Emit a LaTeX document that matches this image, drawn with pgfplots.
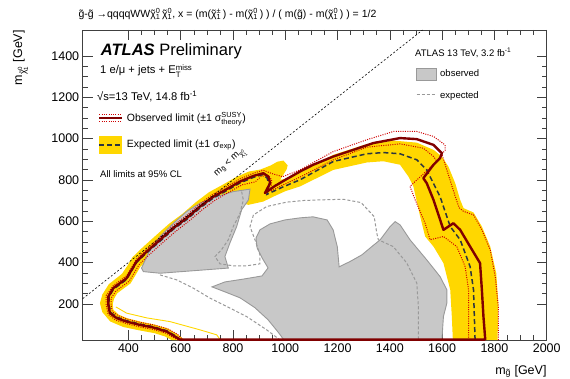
\documentclass[border=0pt]{standalone}
\usepackage{pgfplots}
\pgfplotsset{compat=1.18}
\usepackage{fontspec}
\setmainfont{Liberation Sans}
\definecolor{yel}{HTML}{FFD700}
\definecolor{obsred}{HTML}{800000}
\definecolor{dotred}{HTML}{D00000}
\definecolor{expdark}{HTML}{2A3440}
\definecolor{grfill}{HTML}{C8C8C8}
\definecolor{gredge}{HTML}{999999}
\makeatletter
\newcommand{\ssb}[2]{\ensuremath{{}^{\mbox{\fontsize\sf@size\z@\selectfont #2}}_{\mbox{\fontsize\sf@size\z@\selectfont #1}}}}
\newcommand{\sub}[1]{\ensuremath{{}_{\mbox{\fontsize\sf@size\z@\selectfont #1}}}}
\makeatother
\newcommand{\tld}[1]{{\ooalign{#1\cr\hidewidth\char"02DC\hidewidth\cr}}}
\newcommand{\chiz}{\tld{χ}\ssb{1}{0}}
\newcommand{\chipm}{\tld{χ}\ssb{1}{±}}
\newcommand{\gl}{\tld{g}}
\begin{document}
\begin{tikzpicture}[x=1pt,y=1pt]
\useasboundingbox (0,0) rectangle (570,378);
\begin{axis}[
  at={(82.7pt,38pt)}, anchor=south west, scale only axis,
  width=464pt, height=310pt,
  xmin=225, xmax=2000, ymin=25, ymax=1525,
  xtick={400,600,...,2000}, ytick={200,400,...,1400},
  minor x tick num=3, minor y tick num=3,
  tick align=inside, xtick pos=both, ytick pos=both,
  xticklabel pos=lower, yticklabel pos=left,
  major tick length=10pt, minor tick length=5pt,
  axis line style={black!75, line width=0.8pt},
  every tick/.style={black!75, line width=0.6pt},
  tick label style={font=\fontsize{12.5}{14}\selectfont},
  /pgf/number format/assume math mode=true,
  /pgf/number format/1000 sep={},
]
% yellow expected band
\addplot[fill=yel, draw=none] coordinates {
(1812,25)(1815,203)(1807,348)(1784,477)(1752,574)(1720,642)(1682,663)(1669,703)(1650,784)(1624,864)(1599,913)(1567,945)(1503,980)(1414,990)(1312,973)(1184,921)(1056,835)(1000,805)(980,800)
(1005,850)(1009,870)(993,893)(970,888)(945,870)
(905,850)(860,840)(810,812)(760,776)(708,740)(658,692)(607,636)(555,587)(505,531)(455,474)(415,425)(396,384)(375,345)(325,295)(300,245)(291,203)(300,160)(330,115)(380,88)(440,72)(500,58)(540,42)(565,25)
(615,25)(588,52)(552,80)(498,100)(446,114)(396,130)(362,148)(342,172)(340,200)(345,225)
(357,251)(408,299)(427,339)(446,380)(485,428)(536,485)(586,541)(638,590)(689,646)(740,690)(790,700)(859,679)(916,695)(960,722)(1000,745)(1056,768)(1184,848)(1312,884)(1375,890)(1439,873)(1471,816)(1490,768)(1516,622)(1535,526)(1567,477)(1605,397)(1631,268)(1637,139)(1641,25)
} -- cycle;
% thin yellow line (expected -1 sigma edge)
\addplot[yel, line width=0.9pt] coordinates {
(352,185)(393,155)(470,132)(559,114)(674,74)(737.6,50)(752,25)
};
% grey observed regions (3.2 fb-1)
\addplot[fill=grfill, draw=gredge, line width=0.9pt] coordinates {
(450,373)(482,461)(521,526)(572,590)(623,647)(674,687)(738,719)(801,743)(865,755)(859,703)(833,655)(814,574)(788,494)(769,429)(782,373)(521,348)(457,356)
} -- cycle;
\addplot[fill=grfill, draw=gredge, line width=0.9pt] coordinates {
(719.6,282)(769,306)(846,321)(911,335)(934,374)(911,423)(892,471)(888,519)(903,558)(942,587)(999,606)(1056,616)(1106,621)(1160,606)(1183,558)(1199,476)(1206,379)(1248,405)(1293,437)(1331,477)(1363,510)(1401,574)(1420,598)(1439,582)(1477,510)(1541,413)(1592,332)(1618,268)(1618,203)(1605,139)(1599,25)(995,25)(972,64)(934,123)(884,181)(827,229)(769,258)
} -- cycle;
% grey expected (3.2 fb-1)
\addplot[gredge, line width=1pt, dash pattern=on 3pt off 2pt] coordinates {
(833,743)(839.5,703)(827,639)(801,574)(782,510)(755,460)(731,429)(750,393.5)(801,384)(852,384)(903,393.5)(903,437)(884,510)(865,574)(878,630)(929,671)(1005,692)(1070,700)(1133,703)(1222,706)(1290,690)(1340,622)(1350,542)(1356,510)(1413,477)(1465,397)(1503,300)(1509,187)(1509,25)
};
\addplot[gredge, line width=1pt, dash pattern=on 3pt off 2pt] coordinates {
(520.6,340)(584.5,316)(648,276)(712,227.6)(776,187)(852,138.6)(929,74)(980,25)
};
% observed +-1 sigma theory
\addplot[dotred, line width=1pt, dash pattern=on 1pt off 1.3pt] coordinates {
(1815,25)(1815,187)(1803,332)(1784,461)(1752,558)(1720,631)(1682,647)(1665,665)(1650,720)(1630,800)(1610,880)(1599,926)(1611,942)(1611,969)(1567,1010)(1503,1034)(1414,1034)(1312,994)(1184,937)(1056,848)(990,815)(950,830)(916,846)(878,832)(827,805)(776,768)(725,732)(674,684)(623,628)(571,578)(521,522)(470,465)(431,417)(412,376)(393,336)(342,288)(315,240)(315,195)(322,150)(350,122)(393,104)(444,88)(495,76)(546,57)(575,35)(590,25)
};
\addplot[dotred, line width=1pt, dash pattern=on 1pt off 1.3pt] coordinates {
(1701,25)(1701,268)(1688,380)(1656,477)(1605,526)(1554,510)(1535,590)(1497,703)(1477,768)(1490,784)(1580,889)(1567,913)(1528,953)(1439,974)(1312,958)(1184,897)(1056,813)(990,775)(945,745)(948,800)(935,822)(908,817)(885,790)(835,776)(784,740)(733,703)(682,655)(631,600)(580,550)(530,495)(480,438)(441,390)(422,350)(403,310)(352,262)(334,228)(334,195)(338,162)(362,142)(396,126)(446,110)(497,98)(548,80)(585,55)(610,25)
};
% expected limit
\addplot[expdark, line width=1.5pt, dash pattern=on 5pt off 3pt] coordinates {
(1726,25)(1720,268)(1707,380)(1669,510)(1631,574)(1592,719)(1541,848)(1503,897)(1439,926)(1375,932)(1312,926)(1184,889)(1056,800)(990,765)(930,730)(938,775)(930,810)(912,825)(878,812)(827,785)(776,748)(725,712)(674,664)(623,608)(571,560)(521,503)(470,447)(431,400)(412,360)(393,318)(342,270)(326,232)(326,195)(332,158)(357,135)(394,118)(444,102)(495,89)(546,70)(580,45)(600,25)
};
% observed limit
\addplot[obsred, line width=2.4pt, line join=round] coordinates {
(1765,25)(1758,139)(1752,268)(1745,397)(1707,477)(1669,558)(1643,590)(1605,558)(1567,703)(1541,784)(1528,808)(1567,873)(1592,905)(1599,929)(1567,969)(1503,997)(1439,1002)(1337,978)(1260,945)(1184,913)(1107,873)(1056,840)(1000,800)(960,770)(922,736)(942,784)(935,816)(916,832)(878,819)(827,792)(776,755)(725,719)(674,671)(623,615)(571,566)(521,510)(470,453)(431,405)(412,364)(393,324)(342,276)(323,235)(323,195)(329,155)(355,131)(393,114)(444,98)(495,85.5)(546,66)(578,42)(597,27)(1765,27)
};
% kinematic limit
\addplot[black, line width=0.6pt, dash pattern=on 2pt off 2pt] coordinates {(225,225)(1525,1525)};
\node[rotate=42, font=\fontsize{9.5}{11}\selectfont] at (axis cs:792,880) {m\sub{\gl} < m\sub{\chiz}};
\end{axis}
% texts
\node[anchor=west, font=\fontsize{10.5}{12}\selectfont] at (75,364) {\gl-\gl{} →qqqqWW\chiz\,\chiz, x = (m(\chipm\,) - m(\chiz\,) ) / ( m(\gl) - m(\chiz\,) ) = 1/2};
\node[anchor=base west, inner sep=0, font=\fontsize{16.5}{18}\selectfont] at (100.7,322) {\textbf{\textit{ATLAS}} Preliminary};
\node[anchor=base west, inner sep=0, font=\fontsize{11.2}{13}\selectfont] at (100,304) {1 e/μ + jets + E\ssb{T}{miss}};
\node[anchor=base west, inner sep=0, font=\fontsize{11.2}{13}\selectfont] at (97,277.3) {√s=13 TeV, 14.8 fb\textsuperscript{-1}};
% legend left
\draw[dotred, line width=1pt, dash pattern=on 1pt off 1.3pt] (99.3,263.5) -- (121.7,263.5);
\draw[dotred, line width=1pt, dash pattern=on 1pt off 1.3pt] (99.3,256.5) -- (121.7,256.5);
\draw[obsred, line width=2.4pt] (99.3,260) -- (121.7,260);
\node[anchor=base west, inner sep=0, font=\fontsize{10.5}{12}\selectfont] at (126.7,256.3) {Observed limit (±1 σ\ssb{theory}{SUSY})};
\fill[yel] (99.3,224) rectangle (121.7,242);
\draw[expdark, line width=1.5pt, dash pattern=on 5pt off 3pt] (99.3,233) -- (121.7,233);
\node[anchor=base west, inner sep=0, font=\fontsize{10.5}{12}\selectfont] at (126.7,230.7) {Expected limit (±1 σ\sub{exp})};
\node[anchor=base west, inner sep=0, font=\fontsize{9.5}{11}\selectfont] at (100,200.7) {All limits at 95\% CL};
% legend right
\node[anchor=base west, inner sep=0, font=\fontsize{9.5}{11}\selectfont] at (415,321.3) {ATLAS 13 TeV, 3.2 fb\textsuperscript{-1}};
\filldraw[fill=grfill, draw=gredge, line width=0.9pt] (416.7,298) rectangle (436,309.7);
\node[anchor=base west, inner sep=0, font=\fontsize{9.5}{11}\selectfont] at (440,301.3) {observed};
\draw[gredge, line width=1pt, dash pattern=on 3pt off 2pt] (416.7,283) -- (436,283);
\node[anchor=base west, inner sep=0, font=\fontsize{9.5}{11}\selectfont] at (440,279.7) {expected};
% axis labels
\node[anchor=base east, inner sep=0, font=\fontsize{12.5}{14}\selectfont] at (546.7,4) {m\sub{\gl} [GeV]};
\node[rotate=90, anchor=base east, inner sep=0, font=\fontsize{12.5}{14}\selectfont] at (22,348) {m\sub{\chiz} [GeV]};
\end{tikzpicture}
\end{document}
